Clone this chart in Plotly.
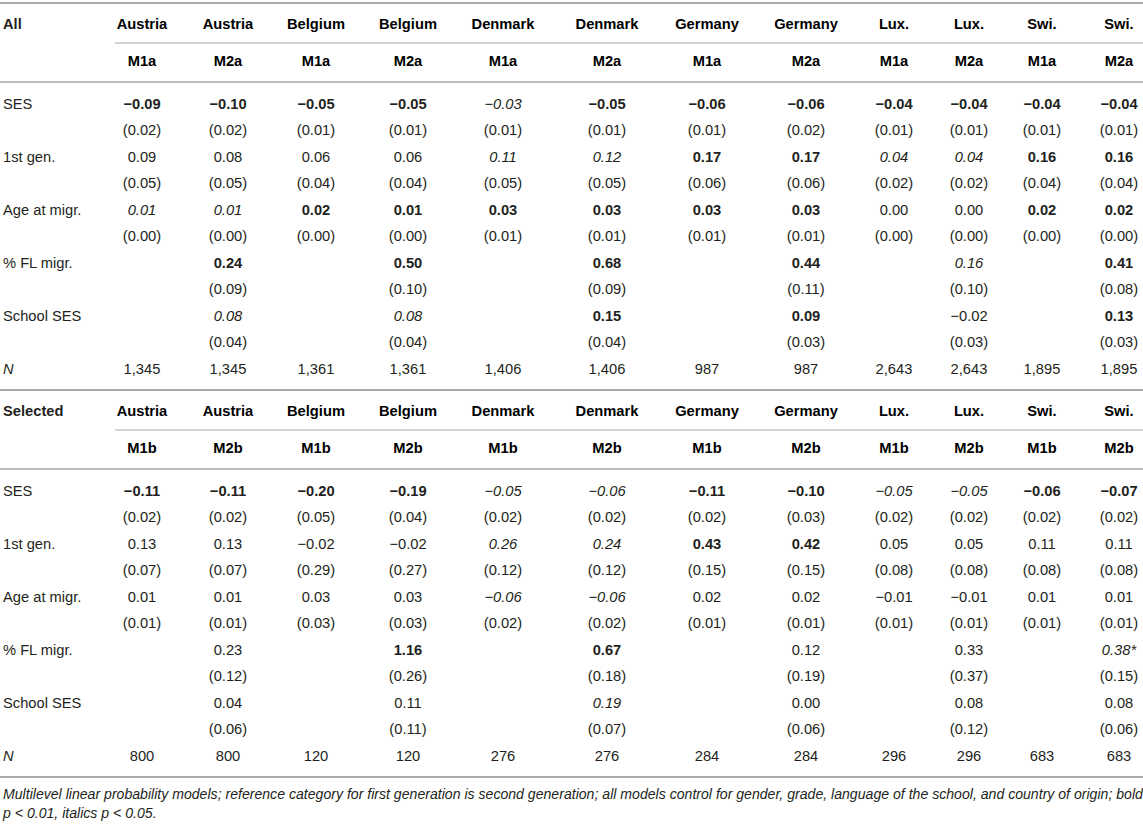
import plotly.graph_objects as go

# --- table content -------------------------------------------------------
COUNTRIES = ["Austria", "Austria", "Belgium", "Belgium", "Denmark", "Denmark",
             "Germany", "Germany", "Lux.", "Lux.", "Swi.", "Swi."]
MODELS_ALL = ["M1a", "M2a"] * 6
MODELS_SEL = ["M1b", "M2b"] * 6
VARIABLES = ["SES", "1st gen.", "Age at migr.", "% FL migr.", "School SES"]
SECTIONS = ["All", "Selected"]

# "All" sample  (style: b = bold p<0.01, i = italic p<0.05, n = plain)
ALL_SES = [-0.09, -0.10, -0.05, -0.05, -0.03, -0.05, -0.06, -0.06, -0.04, -0.04, -0.04, -0.04]
ALL_SES_SE = [0.02, 0.02, 0.01, 0.01, 0.01, 0.01, 0.01, 0.02, 0.01, 0.01, 0.01, 0.01]
ALL_SES_STY = "bbbbibbbbbbb"
ALL_GEN = [0.09, 0.08, 0.06, 0.06, 0.11, 0.12, 0.17, 0.17, 0.04, 0.04, 0.16, 0.16]
ALL_GEN_SE = [0.05, 0.05, 0.04, 0.04, 0.05, 0.05, 0.06, 0.06, 0.02, 0.02, 0.04, 0.04]
ALL_GEN_STY = "nnnniibbiibb"
ALL_AGE = [0.01, 0.01, 0.02, 0.01, 0.03, 0.03, 0.03, 0.03, 0.00, 0.00, 0.02, 0.02]
ALL_AGE_SE = [0.00, 0.00, 0.00, 0.00, 0.01, 0.01, 0.01, 0.01, 0.00, 0.00, 0.00, 0.00]
ALL_AGE_STY = "iibbbbbbnnbb"
ALL_FL = [None, 0.24, None, 0.50, None, 0.68, None, 0.44, None, 0.16, None, 0.41]
ALL_FL_SE = [None, 0.09, None, 0.10, None, 0.09, None, 0.11, None, 0.10, None, 0.08]
ALL_FL_STY = "nbnbnbnbninb"
ALL_SCH = [None, 0.08, None, 0.08, None, 0.15, None, 0.09, None, -0.02, None, 0.13]
ALL_SCH_SE = [None, 0.04, None, 0.04, None, 0.04, None, 0.03, None, 0.03, None, 0.03]
ALL_SCH_STY = "nininbnbnnnb"
ALL_N = ["1,345", "1,345", "1,361", "1,361", "1,406", "1,406",
         "987", "987", "2,643", "2,643", "1,895", "1,895"]

# "Selected" sample
SEL_SES = [-0.11, -0.11, -0.20, -0.19, -0.05, -0.06, -0.11, -0.10, -0.05, -0.05, -0.06, -0.07]
SEL_SES_SE = [0.02, 0.02, 0.05, 0.04, 0.02, 0.02, 0.02, 0.03, 0.02, 0.02, 0.02, 0.02]
SEL_SES_STY = "bbbbiibbiibb"
SEL_GEN = [0.13, 0.13, -0.02, -0.02, 0.26, 0.24, 0.43, 0.42, 0.05, 0.05, 0.11, 0.11]
SEL_GEN_SE = [0.07, 0.07, 0.29, 0.27, 0.12, 0.12, 0.15, 0.15, 0.08, 0.08, 0.08, 0.08]
SEL_GEN_STY = "nnnniibbnnnn"
SEL_AGE = [0.01, 0.01, 0.03, 0.03, -0.06, -0.06, 0.02, 0.02, -0.01, -0.01, 0.01, 0.01]
SEL_AGE_SE = [0.01, 0.01, 0.03, 0.03, 0.02, 0.02, 0.01, 0.01, 0.01, 0.01, 0.01, 0.01]
SEL_AGE_STY = "nnnniinnnnnn"
SEL_FL = [None, 0.23, None, 1.16, None, 0.67, None, 0.12, None, 0.33, None, 0.38]
SEL_FL_SE = [None, 0.12, None, 0.26, None, 0.18, None, 0.19, None, 0.37, None, 0.15]
SEL_FL_STY = "nnnbnbnnnnni"
SEL_FL_MARK = ["", "", "", "", "", "", "", "", "", "", "", "*"]
SEL_SCH = [None, 0.04, None, 0.11, None, 0.19, None, 0.00, None, 0.08, None, 0.08]
SEL_SCH_SE = [None, 0.06, None, 0.11, None, 0.07, None, 0.06, None, 0.12, None, 0.06]
SEL_SCH_STY = "nnnnninnnnnn"
SEL_N = ["800", "800", "120", "120", "276", "276",
         "284", "284", "296", "296", "683", "683"]

FOOTNOTE = [
    "Multilevel linear probability models; reference category for first generation is "
    "second generation; all models control for gender, grade, language of the school, "
    "and country of origin; bold",
    "p < 0.01, italics p < 0.05.",
]

# --- layout constants ----------------------------------------------------
W, H = 1143, 825
COL_X = [142, 228, 316, 408, 503, 607, 707, 806, 894, 969, 1042, 1119]
LABEL_X = 3
SECTION_TOP = [3, 390]
HDR1_OFF, SUB_OFF, HDR2_OFF, RULE_OFF, ROW0_OFF, PITCH = 22, 40, 59, 79, 102, 26.5
SECTION_H = 387
SUBLINE_X0 = 115
FOOT_Y = [795, 814]
FONT = "Liberation Sans, Arial, Helvetica, sans-serif"
TXT = "#231f20"
RULE = "#a7a9ac"
SIZE = 14.7
FOOT_SIZE = 14.1


def fmt(v, sty, mark=""):
    if v is None:
        return ""
    s = f"{v:.2f}".replace("-", "\u2212") + mark
    if sty == "b":
        return f"<b>{s}</b>"
    if sty == "i":
        return f"<i>{s}</i>"
    return s


def fmt_se(v):
    return "" if v is None else f"({v:.2f})"


def section_rows(coefs, ses, styles, marks, n):
    rows = []
    for c, s, st, mk in zip(coefs, ses, styles, marks):
        rows.append([fmt(v, t, m) for v, t, m in zip(c, st, mk)])
        rows.append([fmt_se(v) for v in s])
    rows.append(list(n))
    return rows


blank = [""] * 12
tables = [
    section_rows([ALL_SES, ALL_GEN, ALL_AGE, ALL_FL, ALL_SCH],
                 [ALL_SES_SE, ALL_GEN_SE, ALL_AGE_SE, ALL_FL_SE, ALL_SCH_SE],
                 [ALL_SES_STY, ALL_GEN_STY, ALL_AGE_STY, ALL_FL_STY, ALL_SCH_STY],
                 [blank] * 5, ALL_N),
    section_rows([SEL_SES, SEL_GEN, SEL_AGE, SEL_FL, SEL_SCH],
                 [SEL_SES_SE, SEL_GEN_SE, SEL_AGE_SE, SEL_FL_SE, SEL_SCH_SE],
                 [SEL_SES_STY, SEL_GEN_STY, SEL_AGE_STY, SEL_FL_STY, SEL_SCH_STY],
                 [blank, blank, blank, SEL_FL_MARK, blank], SEL_N),
]
row_labels = []
for v in VARIABLES:
    row_labels += [v, ""]
row_labels.append("<i>N</i>")

fig = go.Figure()
shapes = []

for k, (name, models, rows) in enumerate(zip(SECTIONS, [MODELS_ALL, MODELS_SEL], tables)):
    top = SECTION_TOP[k]
    # header cells
    hx, hy, ht = [], [], []
    for j in range(12):
        hx += [COL_X[j], COL_X[j]]
        hy += [top + HDR1_OFF, top + HDR2_OFF]
        ht += [f"<b>{COUNTRIES[j]}</b>", f"<b>{models[j]}</b>"]
    fig.add_trace(go.Scatter(x=hx, y=hy, text=ht, mode="text", textposition="middle center",
                             textfont=dict(family=FONT, size=SIZE, color="#000000"),
                             hoverinfo="skip", showlegend=False))
    # body cells
    bx, by, bt = [], [], []
    for r, row in enumerate(rows):
        for j, cell in enumerate(row):
            if cell:
                bx.append(COL_X[j])
                by.append(top + ROW0_OFF + r * PITCH)
                bt.append(cell)
    fig.add_trace(go.Scatter(x=bx, y=by, text=bt, mode="text", textposition="middle center",
                             textfont=dict(family=FONT, size=SIZE, color=TXT),
                             hoverinfo="skip", showlegend=False))
    # row labels
    ly = [top + HDR1_OFF] + [top + ROW0_OFF + r * PITCH for r in range(len(row_labels))]
    lt = [f"<b>{name}</b>"] + row_labels
    fig.add_trace(go.Scatter(x=[LABEL_X] * len(ly), y=ly, text=lt, mode="text",
                             textposition="middle right",
                             textfont=dict(family=FONT, size=SIZE, color=TXT),
                             hoverinfo="skip", showlegend=False))
    # rules
    shapes.append(dict(type="line", x0=0, x1=W, y0=top, y1=top,
                       line=dict(color=RULE, width=2)))
    shapes.append(dict(type="line", x0=SUBLINE_X0, x1=W, y0=top + SUB_OFF, y1=top + SUB_OFF,
                       line=dict(color=RULE, width=1)))
    shapes.append(dict(type="line", x0=0, x1=W, y0=top + RULE_OFF, y1=top + RULE_OFF,
                       line=dict(color=RULE, width=1.5)))

bottom = SECTION_TOP[-1] + SECTION_H
shapes.append(dict(type="line", x0=0, x1=W, y0=bottom, y1=bottom,
                   line=dict(color=RULE, width=2)))

# footnote
fig.add_trace(go.Scatter(x=[LABEL_X] * len(FOOTNOTE), y=FOOT_Y,
                         text=[f"<i>{t}</i>" for t in FOOTNOTE], mode="text",
                         textposition="middle right",
                         textfont=dict(family=FONT, size=FOOT_SIZE, color=TXT),
                         hoverinfo="skip", showlegend=False))

fig.update_layout(
    width=W, height=H,
    margin=dict(l=0, r=0, t=0, b=0),
    paper_bgcolor="white", plot_bgcolor="white",
    shapes=shapes,
    xaxis=dict(range=[0, W], visible=False, fixedrange=True),
    yaxis=dict(range=[H, 0], visible=False, fixedrange=True),
)

fig.write_html("out.html", config={"displayModeBar": False},
               post_script="document.body.style.margin='0';")
